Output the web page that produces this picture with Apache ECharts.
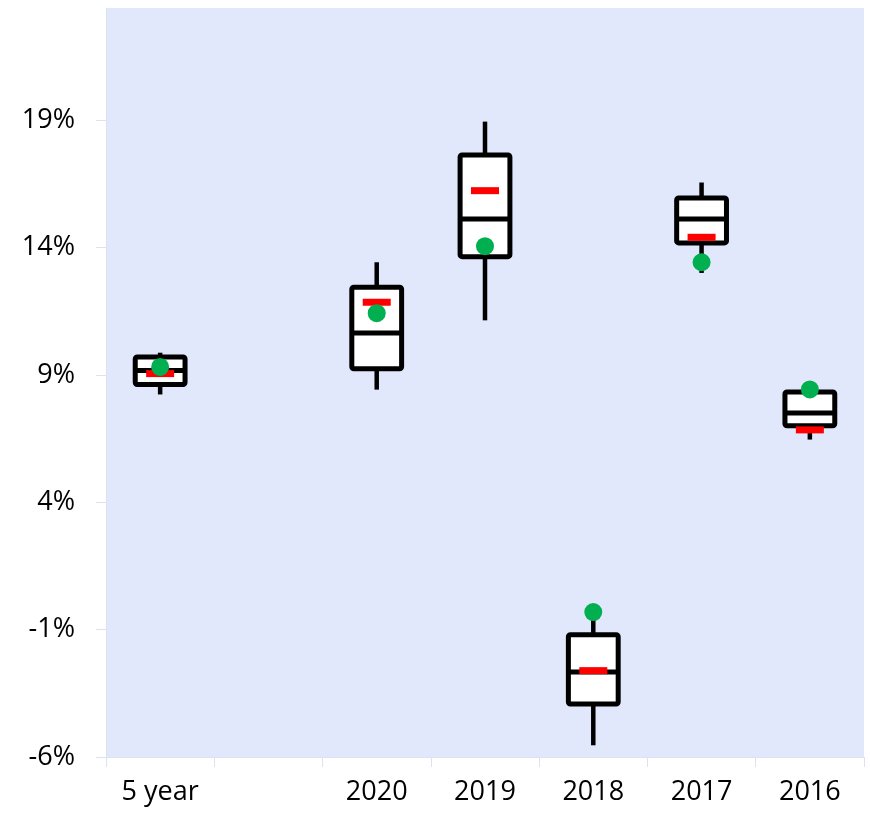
<!DOCTYPE html>
<html>
<head>
<meta charset="utf-8">
<script src="https://cdn.jsdelivr.net/npm/echarts@6/dist/echarts.min.js"></script>
<style>
  html, body { margin: 0; padding: 0; background: #fff; }
  #chart { width: 870px; height: 814px; }
</style>
</head>
<body>
<div id="chart"></div>
<script>
// categories (second slot is left empty in the original)
const categories = ['5 year', '', '2020', '2019', '2018', '2017', '2016'];
// box statistics, in %
const whiskerLow  = [8.23, null, 8.42, 11.14, -5.54, 13.0, 6.46];
const q1          = [8.62, null, 9.24, 13.64, -3.92, 14.18, 7.0];
const median      = [9.17, null, 10.64, 15.12, -2.66, 15.12, 7.5];
const q3          = [9.7,  null, 12.44, 17.63, -1.2, 15.94, 8.33];
const whiskerHigh = [9.87, null, 13.42, 18.94, -0.35, 16.55, 8.45];
// red bar marker and green dot
const means  = [9.05, null, 11.85, 16.23, -2.61, 14.4, 6.84];
const points = [9.31, null, 11.42, 14.05, -0.31, 13.42, 8.43];
// y tick labels
const yTicks = [-6, -1, 4, 9, 14, 19];

const chart = echarts.init(document.getElementById('chart'));

const boxData = [];
categories.forEach((c, i) => {
  if (median[i] == null) return;
  boxData.push([i, whiskerLow[i], q1[i], median[i], q3[i], whiskerHigh[i]]);
});

function renderBox(params, api) {
  const i = api.value(0);
  const x = api.coord([i, 0])[0];
  const w = api.size([1, 0])[0] * 0.46;
  const yLow = api.coord([i, api.value(1)])[1];
  const yQ1 = api.coord([i, api.value(2)])[1];
  const yMed = api.coord([i, api.value(3)])[1];
  const yQ3 = api.coord([i, api.value(4)])[1];
  const yHigh = api.coord([i, api.value(5)])[1];
  const lineStyle = { stroke: '#000', lineWidth: 4.5 };
  return {
    type: 'group',
    children: [
      { type: 'line', shape: { x1: x, y1: yHigh, x2: x, y2: yQ3 }, style: lineStyle },
      { type: 'line', shape: { x1: x, y1: yQ1, x2: x, y2: yLow }, style: lineStyle },
      {
        type: 'rect',
        shape: { x: x - w / 2, y: yQ3, width: w, height: yQ1 - yQ3, r: 2 },
        style: { fill: '#fff', stroke: '#000', lineWidth: 5 }
      },
      { type: 'line', shape: { x1: x - w / 2, y1: yMed, x2: x + w / 2, y2: yMed }, style: { stroke: '#000', lineWidth: 5 } }
    ]
  };
}

const option = {
  backgroundColor: '#fff',
  animation: false,
  textStyle: { fontFamily: 'Open Sans' },
  grid: {
    left: 106, right: 6, top: 8, bottom: 57,
    show: true, backgroundColor: '#e1e8fc', borderWidth: 0
  },
  xAxis: {
    type: 'category',
    data: categories,
    boundaryGap: true,
    axisLine: { onZero: false, lineStyle: { color: '#dbe3f1', width: 1 } },
    axisTick: { show: true, length: 10, lineStyle: { color: '#dbe3f1' } },
    axisLabel: { color: '#000', fontSize: 27, margin: 22, interval: 0 },
    splitLine: { show: false }
  },
  yAxis: {
    type: 'value',
    min: -6,
    max: 23.4,
    interval: 5,
    axisLine: { show: true, lineStyle: { color: '#dbe3f1' } },
    axisTick: { show: true, length: 10, lineStyle: { color: '#dbe3f1' }, customValues: yTicks },
    axisLabel: {
      color: '#000', fontSize: 27, margin: 31,
      customValues: yTicks,
      formatter: v => v + '%'
    },
    splitLine: { show: false }
  },
  series: [
    {
      type: 'custom',
      renderItem: renderBox,
      data: boxData,
      encode: { x: 0, y: [1, 2, 3, 4, 5] },
      z: 2
    },
    {
      type: 'scatter',
      data: means.map((v, i) => v == null ? null : [i, v]).filter(d => d),
      symbol: 'rect',
      symbolSize: [28, 7],
      itemStyle: { color: '#ff0000', opacity: 1 },
      z: 3
    },
    {
      type: 'scatter',
      data: points.map((v, i) => v == null ? null : [i, v]).filter(d => d),
      symbol: 'circle',
      symbolSize: 18,
      itemStyle: { color: '#00b050', opacity: 1 },
      z: 4
    }
  ]
};

chart.setOption(option);
</script>
</body>
</html>
